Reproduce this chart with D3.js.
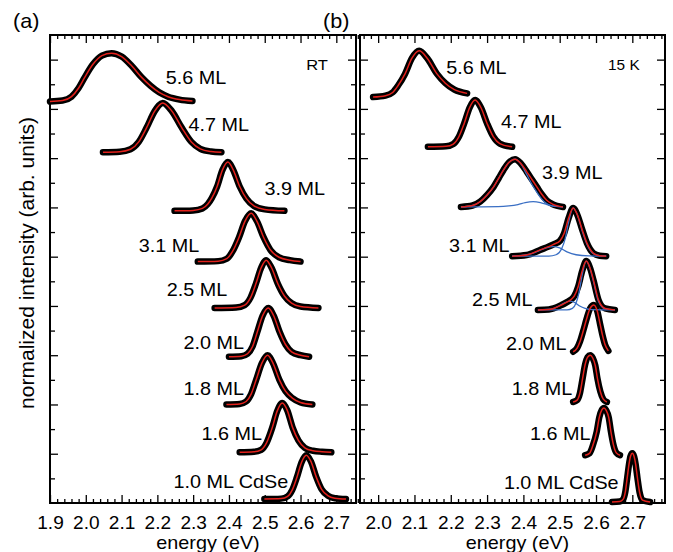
<!DOCTYPE html>
<html>
<head>
<meta charset="utf-8">
<script src="https://cdn.jsdelivr.net/npm/d3@7"></script>
<style>
  body { margin: 0; background: #fff; }
  svg { display: block; font-family: "Liberation Sans", Arial, sans-serif; }
</style>
</head>
<body>
<svg id="chart" width="673" height="552"></svg>
<script>
const svg = d3.select("#chart");

// layer labels, top to bottom
const layers = ["5.6 ML", "4.7 ML", "3.9 ML", "3.1 ML", "2.5 ML", "2.0 ML", "1.8 ML", "1.6 ML", "1.0 ML CdSe"];

// room temperature spectra: [energy (eV), normalized intensity]
const rt56 = [[1.90,0],[1.935,0.02],[1.96,0.1],[1.98,0.28],[1.997,0.5],[2.02,0.77],[2.045,0.95],[2.072,1],[2.10,0.93],[2.128,0.74],[2.156,0.5],[2.18,0.33],[2.205,0.19],[2.23,0.1],[2.262,0.04],[2.298,0.01]];
const rt47 = [[2.048,0],[2.095,0.01],[2.125,0.06],[2.148,0.21],[2.17,0.5],[2.193,0.84],[2.215,1],[2.24,0.84],[2.268,0.5],[2.295,0.21],[2.32,0.07],[2.35,0.015],[2.379,0]];
const rt39 = [[2.248,0],[2.30,0.01],[2.326,0.05],[2.341,0.14],[2.352,0.26],[2.367,0.5],[2.382,0.84],[2.397,1],[2.412,0.84],[2.43,0.5],[2.449,0.25],[2.47,0.1],[2.50,0.03],[2.555,0]];
const rt31 = [[2.313,0],[2.37,0.01],[2.394,0.06],[2.41,0.21],[2.428,0.5],[2.445,0.84],[2.462,1],[2.478,0.84],[2.497,0.5],[2.516,0.24],[2.54,0.09],[2.57,0.03],[2.60,0]];
const rt25 = [[2.36,0],[2.42,0.01],[2.444,0.06],[2.46,0.21],[2.475,0.5],[2.49,0.84],[2.504,1],[2.519,0.84],[2.537,0.5],[2.555,0.25],[2.575,0.1],[2.60,0.03],[2.65,0]];
const rt20 = [[2.40,0],[2.435,0.01],[2.452,0.06],[2.466,0.21],[2.479,0.5],[2.494,0.84],[2.51,1],[2.525,0.84],[2.542,0.5],[2.558,0.25],[2.575,0.1],[2.60,0.03],[2.624,0]];
const rt18 = [[2.393,0],[2.43,0.01],[2.448,0.06],[2.462,0.21],[2.476,0.5],[2.492,0.84],[2.508,1],[2.523,0.84],[2.541,0.5],[2.558,0.27],[2.577,0.13],[2.60,0.04],[2.633,0]];
const rt16 = [[2.43,0],[2.47,0.01],[2.49,0.05],[2.505,0.19],[2.521,0.5],[2.535,0.84],[2.549,1],[2.563,0.85],[2.578,0.5],[2.594,0.24],[2.612,0.09],[2.635,0.03],[2.66,0.01],[2.686,0]];
const rt10 = [[2.499,0],[2.546,0.01],[2.564,0.06],[2.577,0.21],[2.590,0.5],[2.603,0.84],[2.616,1],[2.629,0.86],[2.644,0.5],[2.659,0.22],[2.676,0.08],[2.696,0.02],[2.727,0]];
const rtSpectra = [rt56, rt47, rt39, rt31, rt25, rt20, rt18, rt16, rt10];
const rtOffset = [8.15, 7.12, 5.93, 4.90, 3.96, 2.97, 2.00, 1.03, 0.08];
const rtHeight = [0.98, 1.00, 0.99, 0.98, 0.97, 0.99, 1.00, 1.00, 0.89];

// 15 K spectra
const lt56 = [[1.986,0],[2.02,0.03],[2.04,0.1],[2.055,0.25],[2.074,0.5],[2.093,0.84],[2.113,1],[2.135,0.84],[2.162,0.5],[2.185,0.3],[2.21,0.16],[2.245,0.08]];
const lt47 = [[2.137,0],[2.187,0.01],[2.207,0.06],[2.222,0.21],[2.237,0.5],[2.252,0.84],[2.267,1],[2.283,0.84],[2.30,0.5],[2.317,0.22],[2.335,0.07],[2.369,0]];
const lt39 = [[2.228,0],[2.26,0.03],[2.281,0.11],[2.30,0.25],[2.318,0.42],[2.332,0.6],[2.345,0.77],[2.36,0.93],[2.377,1],[2.393,0.91],[2.409,0.74],[2.423,0.58],[2.437,0.42],[2.45,0.27],[2.464,0.14],[2.48,0.06],[2.509,0]];
const lt31 = [[2.369,0],[2.409,0.025],[2.446,0.13],[2.483,0.245],[2.501,0.32],[2.512,0.47],[2.525,0.8],[2.537,1],[2.549,0.85],[2.562,0.55],[2.575,0.27],[2.593,0.06],[2.61,0.01],[2.628,0]];
const lt25 = [[2.44,0],[2.47,0.01],[2.483,0.03],[2.505,0.1],[2.52,0.16],[2.529,0.2],[2.54,0.28],[2.551,0.48],[2.562,0.8],[2.573,1],[2.583,0.87],[2.593,0.61],[2.607,0.2],[2.625,0.03],[2.652,0]];
const lt20 = [[2.537,0],[2.548,0.08],[2.556,0.22],[2.565,0.45],[2.574,0.7],[2.584,0.93],[2.594,1],[2.603,0.88],[2.611,0.6],[2.618,0.35],[2.625,0.15],[2.634,0.02]];
const lt18 = [[2.537,0],[2.548,0.04],[2.556,0.2],[2.563,0.5],[2.57,0.8],[2.577,0.96],[2.584,1],[2.591,0.94],[2.598,0.78],[2.604,0.5],[2.612,0.22],[2.62,0.06],[2.63,0]];
const lt16 = [[2.57,0],[2.582,0.04],[2.591,0.2],[2.602,0.5],[2.609,0.8],[2.616,0.96],[2.622,1],[2.628,0.95],[2.635,0.8],[2.641,0.5],[2.648,0.22],[2.656,0.05],[2.666,0]];
const lt10 = [[2.644,0],[2.665,0.01],[2.675,0.06],[2.681,0.22],[2.686,0.5],[2.691,0.78],[2.695,0.94],[2.70,1],[2.705,0.93],[2.709,0.78],[2.714,0.5],[2.72,0.2],[2.728,0.04],[2.749,0]];
const ltSpectra = [lt56, lt47, lt39, lt31, lt25, lt20, lt18, lt16, lt10];
const ltOffset = [8.24, 7.23, 6.01, 5.01, 3.92, 3.07, 2.05, 0.97, 0.02];
const ltHeight = [0.94, 0.95, 0.97, 0.98, 0.99, 0.95, 0.95, 0.96, 0.99];

// 15 K two-component fits (blue), index into ltSpectra
const lt39Main = [[2.228,0],[2.26,0.03],[2.281,0.11],[2.30,0.25],[2.318,0.42],[2.332,0.6],[2.345,0.77],[2.36,0.93],[2.377,1],[2.393,0.9],[2.409,0.68],[2.423,0.48],[2.437,0.31],[2.45,0.17],[2.464,0.07],[2.48,0.02],[2.509,0]];
const lt39Side = [[2.228,0],[2.33,0.005],[2.36,0.02],[2.385,0.05],[2.405,0.09],[2.427,0.11],[2.447,0.09],[2.465,0.05],[2.49,0.01],[2.509,0]];
const lt31Main = [[2.369,0],[2.47,0],[2.49,0.03],[2.505,0.15],[2.515,0.36],[2.525,0.72],[2.537,1],[2.549,0.85],[2.562,0.52],[2.575,0.25],[2.593,0.05],[2.61,0.01],[2.628,0]];
const lt31Side = [[2.369,0],[2.40,0.02],[2.425,0.06],[2.445,0.12],[2.465,0.18],[2.482,0.2],[2.50,0.17],[2.52,0.09],[2.545,0.03],[2.58,0.005],[2.628,0]];
const lt25Main = [[2.44,0],[2.52,0],[2.535,0.03],[2.545,0.14],[2.553,0.35],[2.562,0.72],[2.573,1],[2.583,0.86],[2.593,0.58],[2.607,0.17],[2.625,0.02],[2.652,0]];
const lt25Side = [[2.44,0],[2.48,0.02],[2.50,0.09],[2.515,0.15],[2.528,0.18],[2.542,0.15],[2.555,0.08],[2.57,0.03],[2.59,0.005],[2.652,0]];
const ltComponents = [[2, lt39Main], [2, lt39Side], [3, lt31Main], [3, lt31Side], [4, lt25Main], [4, lt25Side]];

// label anchors [energy, y]
const rtLabelAt = [[2.226,8.51],[2.29,7.55],[2.502,6.25],[2.151,5.10],[2.229,4.20],[2.276,3.13],[2.276,2.19],[2.326,1.28],[2.248,0.30]];
const ltLabelAt = [[2.19,8.71],[2.341,7.61],[2.454,6.58],[2.198,5.10],[2.261,4.00],[2.355,3.11],[2.371,2.19],[2.421,1.28],[2.349,0.28]];

const rtTicks = [1.9, 2.0, 2.1, 2.2, 2.3, 2.4, 2.5, 2.6, 2.7];
const ltTicks = [2.0, 2.1, 2.2, 2.3, 2.4, 2.5, 2.6, 2.7];

const plotTop = 35, plotBottom = 503;
const y = d3.scaleLinear().domain([0, 9.5]).range([plotBottom, plotTop]);
const yMajor = d3.range(1, 10);
const yMinor = d3.range(0.5, 9.5, 1);

const RED = "#e3211c", BLUE = "#3a6fc4";

function drawPanel(opt) {
  const x = d3.scaleLinear().domain(opt.domain).range(opt.range);
  const g = svg.append("g");
  const minor = d3.range(Math.round(opt.domain[0] * 50), Math.round(opt.domain[1] * 50) + 1)
    .map(d => d / 50)
    .filter(d => Math.abs(d * 10 - Math.round(d * 10)) > 1e-6);

  const tickAxis = (axis, pos, vals, size, fmt) => {
    const a = g.append("g")
      .attr("transform", pos)
      .call(axis.tickValues(vals).tickSize(size).tickPadding(13).tickFormat(fmt || ""));
    a.select(".domain").remove();
    a.selectAll("line").attr("stroke", "#000").attr("stroke-width", 1.3);
    return a;
  };

  const xb = tickAxis(d3.axisBottom(x), `translate(0,${plotBottom})`, opt.ticks, -8, d3.format(".1f"));
  xb.selectAll("text").attr("font-size", 18).attr("fill", "#000")
    .attr("font-family", "Liberation Sans, Arial, sans-serif")
    .attr("transform", "scale(1.06,1)");
  tickAxis(d3.axisBottom(x), `translate(0,${plotBottom})`, minor, -4);
  tickAxis(d3.axisTop(x), `translate(0,${plotTop})`, opt.ticks, -8);
  tickAxis(d3.axisTop(x), `translate(0,${plotTop})`, minor, -4);
  tickAxis(d3.axisLeft(y), `translate(${opt.range[0]},0)`, yMajor, -8);
  tickAxis(d3.axisLeft(y), `translate(${opt.range[0]},0)`, yMinor, -5);
  tickAxis(d3.axisRight(y), `translate(${opt.range[1]},0)`, yMajor, -8);
  tickAxis(d3.axisRight(y), `translate(${opt.range[1]},0)`, yMinor, -5);

  g.append("rect")
    .attr("x", opt.range[0]).attr("y", plotTop)
    .attr("width", opt.range[1] - opt.range[0]).attr("height", plotBottom - plotTop)
    .attr("fill", "none").attr("stroke", "#000").attr("stroke-width", 2);

  const lineFor = (i) => d3.line()
    .x(d => x(d[0]))
    .y(d => y(opt.offset[i] + opt.height[i] * d[1]))
    .curve(d3.curveMonotoneX);

  // data (black), fit components (blue), total fit (red)
  opt.spectra.forEach((s, i) => {
    g.append("path").attr("d", lineFor(i)(s))
      .attr("fill", "none").attr("stroke", "#000").attr("stroke-width", 6.5)
      .attr("stroke-linecap", "round").attr("stroke-linejoin", "round");
  });
  (opt.components || []).forEach(([i, s]) => {
    g.append("path").attr("d", lineFor(i)(s))
      .attr("fill", "none").attr("stroke", BLUE).attr("stroke-width", 1.3);
  });
  opt.spectra.forEach((s, i) => {
    g.append("path").attr("d", lineFor(i)(s))
      .attr("fill", "none").attr("stroke", RED).attr("stroke-width", 1.5);
  });

  layers.forEach((name, i) => {
    const [e, v] = opt.labels[i];
    g.append("text")
      .attr("transform", `translate(${x(e) - 1},${y(v)}) scale(1.1,1)`)
      .attr("font-size", 18).text(name);
  });

  g.append("text")
    .attr("transform", `translate(${x(opt.tag[0])},${y(opt.tag[1])}) scale(1.1,1)`)
    .attr("font-size", opt.tagSize).text(opt.tagText);

  g.append("text")
    .attr("transform", `translate(${(opt.range[0] + opt.range[1]) / 2 + 5},549) scale(1.1,1)`)
    .attr("text-anchor", "middle").attr("font-size", 18).text("energy (eV)");

  svg.append("text")
    .attr("transform", `translate(${opt.range[0] - 37},28) scale(1.08,1)`)
    .attr("font-size", 20).text(opt.panel);
}

drawPanel({
  domain: [1.9, 2.755], range: [50, 356], ticks: rtTicks,
  spectra: rtSpectra, offset: rtOffset, height: rtHeight, labels: rtLabelAt,
  tag: [2.616, 8.79], tagText: "RT", tagSize: 15, panel: "(a)"
});

drawPanel({
  domain: [1.95, 2.79], range: [360, 665], ticks: ltTicks,
  spectra: ltSpectra, offset: ltOffset, height: ltHeight, labels: ltLabelAt,
  components: ltComponents,
  tag: [2.633, 8.79], tagText: "15 K", tagSize: 14, panel: "(b)"
});

svg.append("text")
  .attr("transform", `translate(34,263) rotate(-90)`)
  .attr("text-anchor", "middle").attr("font-size", 21)
  .text("normalized intensity (arb. units)");
</script>
</body>
</html>
